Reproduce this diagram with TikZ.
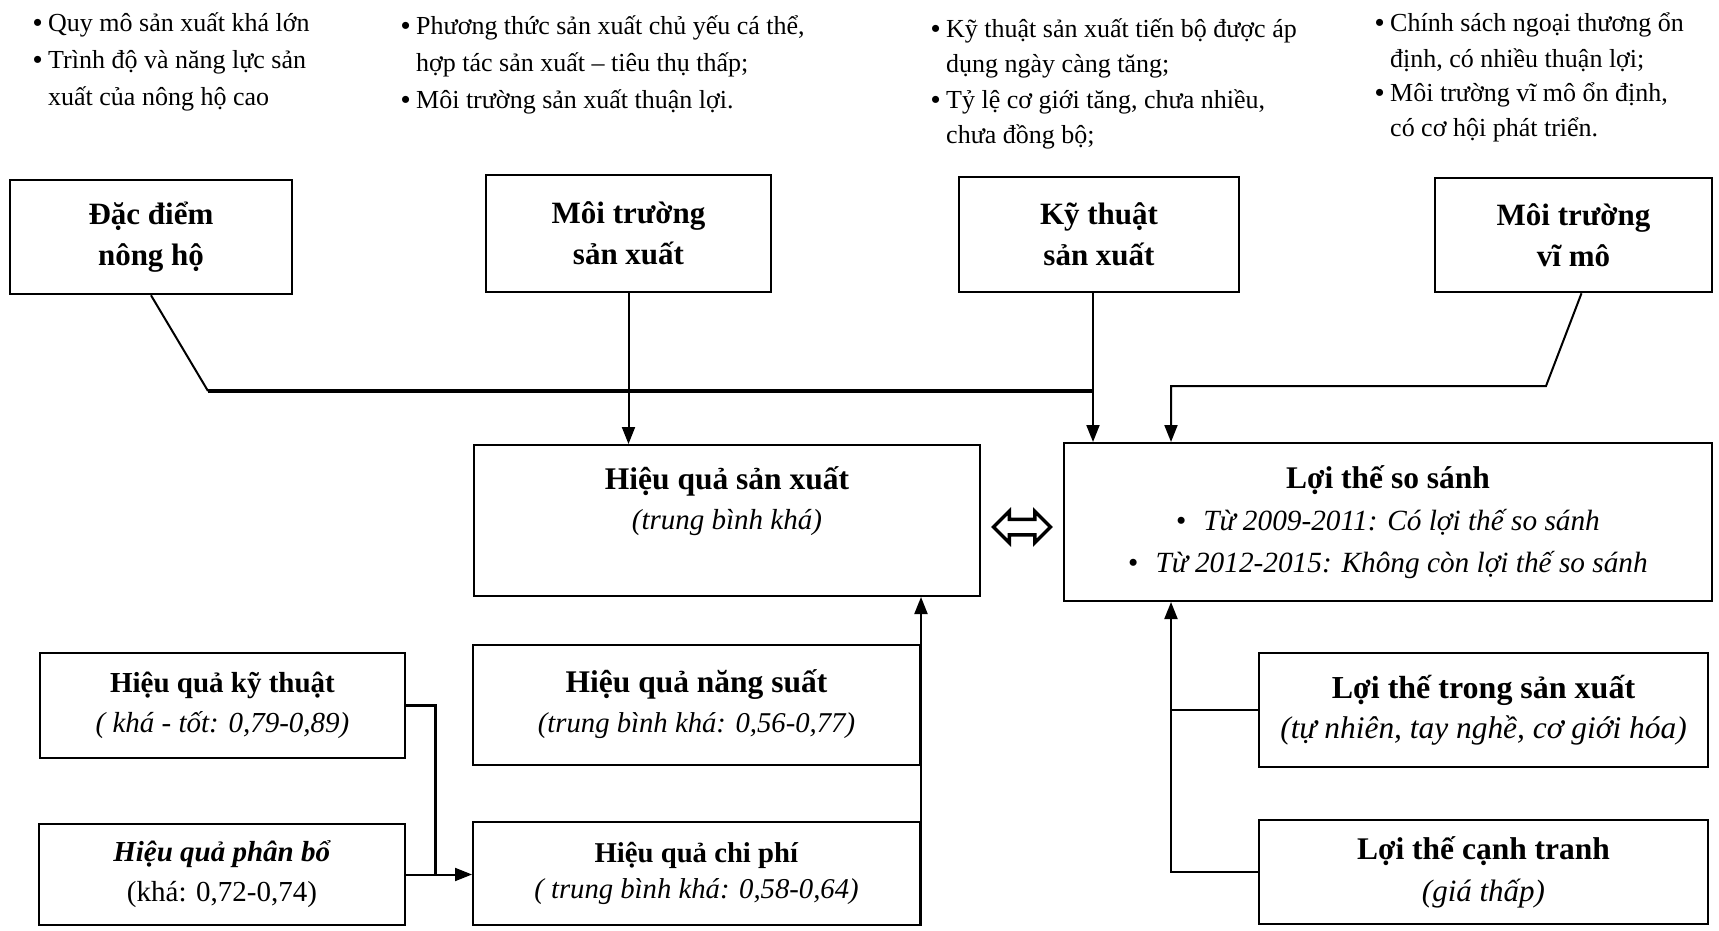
\documentclass[tikz,border=0pt]{standalone}
\usepackage{fontspec}
\setmainfont{Liberation Serif}
\usepackage{tikz}
\usetikzlibrary{calc, positioning, arrows.meta, shapes.arrows}

\newcommand{\itm}{\makebox[15pt][l]{\textbf{\textbullet}}}
\newcommand{\sem}{\hspace*{15pt}}
\newcommand{\fs}[1]{\fontsize{#1}{40}\selectfont}

\begin{document}
\begin{tikzpicture}[x=1pt, y=-1pt,
    caixa/.style={draw, line width=2pt, inner sep=0pt, align=center},
    topo/.style={caixa, line width=2.6pt, font=\fontsize{31}{41}\selectfont\bfseries},
    baixo/.style={caixa, font=\fontsize{29}{40}\selectfont},
    lista/.style={anchor=base west, align=left, inner sep=0pt, font=\fontsize{26}{37}\selectfont},
    seta/.style={line width=2pt, -{Triangle[length=17pt,width=13pt]}},
    linha/.style={line width=2pt}]
\useasboundingbox (0,0) rectangle (1719,931);

    % Listas de cima (ancoradas na ultima linha):
    \node[lista] (t1) at (33,106) {\itm Quy mô sản xuất khá lớn\\
        \itm Trình độ và năng lực sản\\ \sem xuất của nông hộ cao};
    \node[lista] (t2) at (401,109) {\itm Phương thức sản xuất chủ yếu cá thể,\\
        \sem hợp tác sản xuất – tiêu thụ thấp;\\ \itm Môi trường sản xuất thuận lợi.};
    \node[lista, font=\fontsize{26}{35.5}\selectfont] (t3) at (931,144) {\itm Kỹ thuật sản xuất tiến bộ được áp\\
        \sem dụng ngày càng tăng;\\ \itm Tỷ lệ cơ giới tăng, chưa nhiều,\\ \sem chưa đồng bộ;};
    \node[lista, font=\fontsize{26}{35}\selectfont] (t4) at (1375,137) {\itm Chính sách ngoại thương ổn\\
        \sem định, có nhiều thuận lợi;\\ \itm Môi trường vĩ mô ổn định,\\ \sem có cơ hội phát triển.};

    % Caixas de cima:
    \node[topo, minimum width=282pt, minimum height=114pt] (n1) at (151,237) {Đặc điểm\\nông hộ};
    \node[topo, minimum width=285pt, minimum height=117pt] (n2) at (628.5,233.5) {Môi trường\\sản xuất};
    \node[topo, minimum width=280pt, minimum height=115pt] (n3) at (1099,234.5) {Kỹ thuật\\sản xuất};
    \node[topo, minimum width=277pt, minimum height=114pt] (n4) at (1573.5,235) {Môi trường\\vĩ mô};

    % Caixas do meio:
    \node[caixa, minimum width=506pt, minimum height=151pt] (n5) at (727,520.5) {};
    \node[align=center, anchor=base, font=\fs{29}] (n5t) at (727,529)
        {\fs{31.5}\textbf{Hiệu quả sản xuất}\\ \textit{(trung bình khá)}};
    \node[baixo, minimum width=648pt, minimum height=158pt, font=\fontsize{29.3}{42}\selectfont] (n6) at (1388,522)
        {{\fontsize{31.5}{42}\selectfont\textbf{Lợi thế so sánh}}\\
         \textbullet\hspace{17pt}\textit{Từ 2009-2011: Có lợi thế so sánh}\\
         \textbullet\hspace{17pt}\textit{Từ 2012-2015: Không còn lợi thế so sánh}};
    \node[double arrow, draw, fill=white, line width=3.5pt, inner xsep=0pt, inner ysep=6pt,
        minimum height=57pt, double arrow head extend=8pt] (n13) at (1022,527) {};

    % Caixas de baixo:
    \node[baixo, minimum width=365pt, minimum height=105pt] (n7) at (222.5,705.5)
        {\textbf{Hiệu quả kỹ thuật}\\ \textit{( khá - tốt: 0,79-0,89)}};
    \node[baixo, minimum width=366pt, minimum height=101pt] (n8) at (222,874.5)
        {\textbf{\textit{Hiệu quả phân bổ}}\\ (khá: 0,72-0,74)};
    \node[baixo, minimum width=447pt, minimum height=120pt, font=\fs{28.7}] (n9) at (696.5,704.5)
        {{\fs{31.5}\textbf{Hiệu quả năng suất}}\\ \textit{(trung bình khá: 0,56-0,77)}};
    \node[baixo, minimum width=447pt, minimum height=103pt, font=\fontsize{28.7}{36}\selectfont] (n10) at (696.5,873.5)
        {\textbf{Hiệu quả chi phí}\\ \textit{( trung bình khá: 0,58-0,64)}};
    \node[baixo, minimum width=449pt, minimum height=114pt, font=\fs{31.4}] (n11) at (1483.5,710)
        {{\fs{32}\textbf{Lợi thế trong sản xuất}}\\ \textit{(tự nhiên, tay nghề, cơ giới hóa)}};
    \node[baixo, minimum width=449pt, minimum height=104pt, font=\fontsize{31}{42}\selectfont] (n12) at (1483.5,872)
        {{\fontsize{31.5}{42}\selectfont\textbf{Lợi thế cạnh tranh}}\\ \textit{(giá thấp)}};

    % Ligacoes de cima:
    \coordinate (c1) at (208,391);
    \coordinate (c2) at (1093,391);
    \coordinate (c3) at (1546,386);
    \coordinate (c4) at (1171,386);
    \draw[linha] (n1.south) -- (c1);
    \draw[line width=4pt] (c1) -- (c2);
    \draw[seta] (n2.south) -- (n2.south |- n5.north);
    \draw[seta] (c2 |- n3.south) -- (c2 |- n6.north);
    \draw[seta] ([xshift=8pt]n4.south) -- (c3) -- (c4) -- (c4 |- n6.north);

    % Ligacoes de baixo:
    \coordinate (c5) at ($(n8.east)!0.45!(n10.west)$);
    \draw[line width=3pt] (n7.east) -| (c5);
    \draw[seta] (n8.east) -- (n8.east -| n10.west);
    \draw[seta] (n10.south east) -- (n10.south east |- n5.south);
    \draw[line width=2.5pt] (n11.west) -- (n11.west -| c4);
    \draw[seta] (n12.west) -| (c4 |- n6.south);
\end{tikzpicture}
\end{document}
